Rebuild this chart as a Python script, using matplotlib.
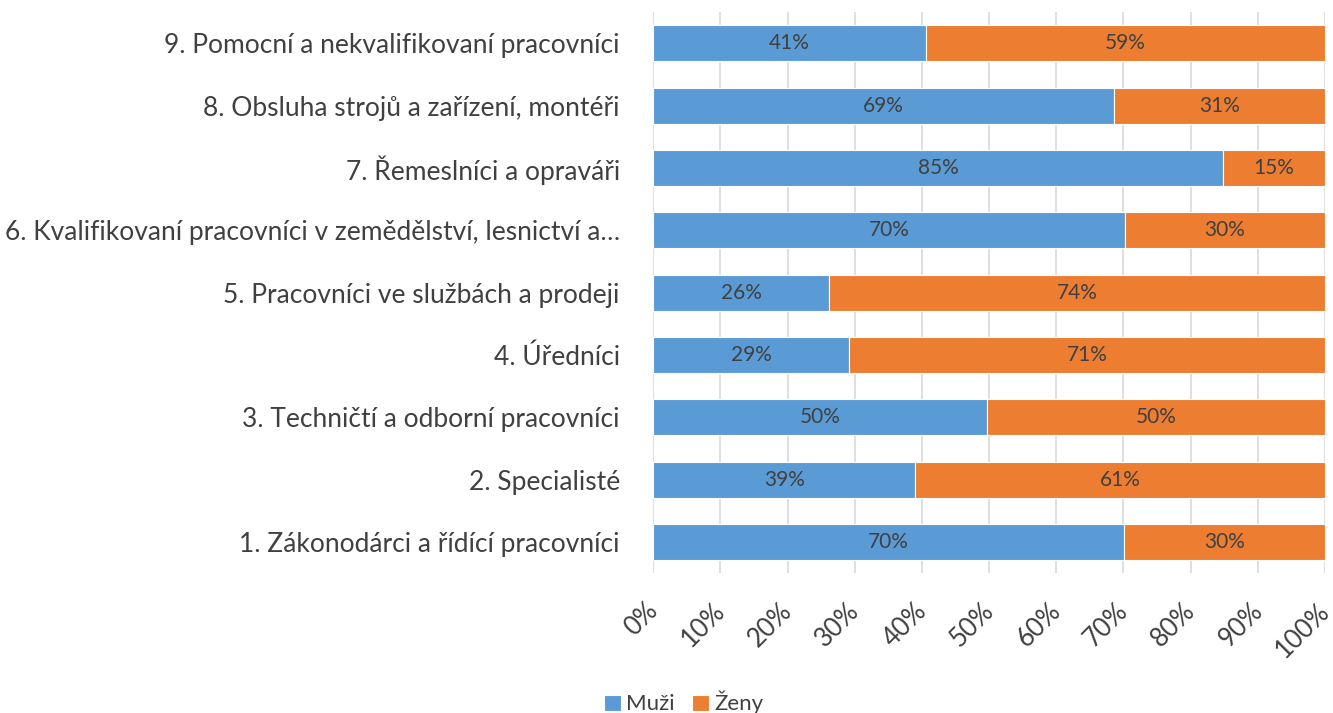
import numpy as np
import matplotlib.pyplot as plt
from matplotlib.ticker import FuncFormatter
from matplotlib.transforms import ScaledTranslation

plt.rcParams['font.family'] = ['Lato', 'DejaVu Sans']

# occupation groups, bottom to top
categories = [
    '1. Zákonodárci a řídící pracovníci',
    '2. Specialisté',
    '3. Techničtí a odborní pracovníci',
    '4. Úředníci',
    '5. Pracovníci ve službách a prodeji',
    '6. Kvalifikovaní pracovníci v zemědělství, lesnictví a…',
    '7. Řemeslníci a opraváři',
    '8. Obsluha strojů a zařízení, montéři',
    '9. Pomocní a nekvalifikovaní pracovníci',
]
muzi = [70.1, 39.0, 49.7, 29.2, 26.2, 70.2, 84.8, 68.6, 40.6]
zeny = [100 - m for m in muzi]
series_names = ['Muži', 'Ženy']
colors = ['#5B9BD5', '#ED7D31']
text_color = '#404040'

fig = plt.figure(figsize=(13.33, 7.13), dpi=100)
ax = fig.add_axes([0.490, 0.196, 0.504, 0.787])

y = np.arange(len(categories))
b1 = ax.barh(y, muzi, height=0.58, color=colors[0], edgecolor='white',
             linewidth=0.8, label=series_names[0], zorder=3)
b2 = ax.barh(y, zeny, left=muzi, height=0.58, color=colors[1],
             edgecolor='white', linewidth=0.8, label=series_names[1], zorder=3)

for bars in (b1, b2):
    ax.bar_label(bars, labels=['{:.0f}%'.format(b.get_width()) for b in bars],
                 label_type='center', fontsize=15, color=text_color)

ax.set_xlim(0, 100)
ax.set_ylim(-0.5, len(categories) - 0.5)
ax.set_xticks(np.arange(0, 101, 10))
ax.xaxis.set_major_formatter(FuncFormatter(lambda v, p: '{:.0f}%'.format(v)))
ax.set_yticks(y)
ax.set_yticklabels(categories, fontsize=19, color=text_color)

ax.grid(axis='x', color='#D9D9D9', linewidth=1.2, zorder=0)
for s in ax.spines.values():
    s.set_visible(False)
ax.tick_params(axis='y', length=0, pad=24)
ax.tick_params(axis='x', length=0, pad=18, labelsize=18.5, labelcolor=text_color)
shift = ScaledTranslation(-8 / 100, 0, fig.dpi_scale_trans)
for lbl in ax.get_xticklabels():
    lbl.set_rotation(45)
    lbl.set_ha('right')
    lbl.set_va('top')
    lbl.set_rotation_mode('anchor')
    lbl.set_transform(lbl.get_transform() + shift)

fig.legend(loc='lower center', bbox_to_anchor=(0.513, -0.03), ncol=2,
           frameon=False, fontsize=16, handlelength=0.75, handleheight=0.75,
           handletextpad=0.25, columnspacing=0.8, labelcolor=text_color)

fig.savefig('out.png', dpi=100)
